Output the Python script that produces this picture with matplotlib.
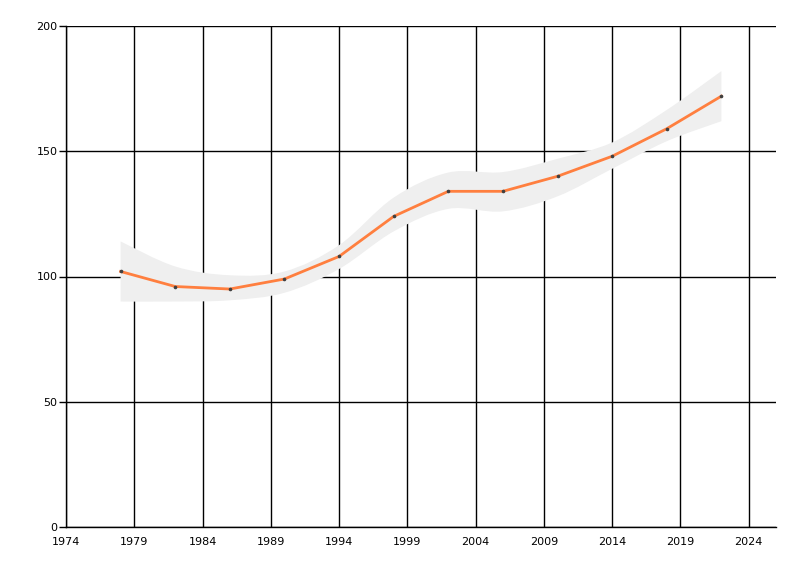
import numpy as np
import matplotlib.pyplot as plt
from matplotlib.path import Path
from matplotlib.patches import PathPatch

# data
years = [1978, 1982, 1986, 1990, 1994, 1998, 2002, 2006, 2010, 2014, 2018, 2022]
values = [102, 96, 95, 99, 108, 124, 134, 134, 140, 148, 159, 172]
band_low = [90, 90, 90.5, 93.5, 103, 118, 127, 126, 132, 143, 154, 162]
band_high = [114, 104, 100.5, 102, 112.5, 131.5, 141.5, 141.7, 147, 153.5, 166.5, 182]
x_ticks = list(range(1974, 2025, 5))
y_ticks = [0, 50, 100, 150, 200]


def smooth_verts(xs, ys):
    # catmull-rom segments as cubic bezier control points
    pts = list(zip(xs, ys))
    verts = [pts[0]]
    for i in range(len(pts) - 1):
        p0 = pts[i - 1] if i > 0 else pts[i]
        p1 = pts[i]
        p2 = pts[i + 1]
        p3 = pts[i + 2] if i + 2 < len(pts) else pts[i + 1]
        c1 = (p1[0] + (p2[0] - p0[0]) / 6, p1[1] + (p2[1] - p0[1]) / 6)
        c2 = (p2[0] - (p3[0] - p1[0]) / 6, p2[1] - (p3[1] - p1[1]) / 6)
        verts += [c1, c2, p2]
    return verts


fig = plt.figure(figsize=(8, 5.76), dpi=100)
ax = fig.add_axes([66 / 800, 1 - 527 / 576, (776 - 66) / 800, (527 - 26) / 576])

ax.set_xlim(1974, 2026)
ax.set_ylim(0, 200)
ax.set_xticks(x_ticks)
ax.set_yticks(y_ticks)
ax.grid(True, color='black', linewidth=1)
ax.set_axisbelow(True)

# band
up = smooth_verts(years, band_high)
lo = smooth_verts(years[::-1], band_low[::-1])
verts = up + [lo[0]] + lo[1:] + [up[0]]
codes = [Path.MOVETO] + [Path.CURVE4] * (len(up) - 1) + [Path.LINETO] \
    + [Path.CURVE4] * (len(lo) - 1) + [Path.CLOSEPOLY]
ax.add_patch(PathPatch(Path(verts, codes), facecolor='#efefef', edgecolor='none', zorder=2))

ax.plot(years, values, color='#ff7f3f', linewidth=2, zorder=3)
ax.plot(years, values, 'o', color='#404040', markersize=1.6, zorder=4)

for s in ['top', 'right']:
    ax.spines[s].set_visible(False)
ax.spines['left'].set_linewidth(1)
ax.spines['bottom'].set_linewidth(1)
ax.tick_params(labelsize=8, length=5, width=1, pad=1)
ax.tick_params(axis='x', length=0, pad=7)

plt.savefig('out.png', dpi=100)
